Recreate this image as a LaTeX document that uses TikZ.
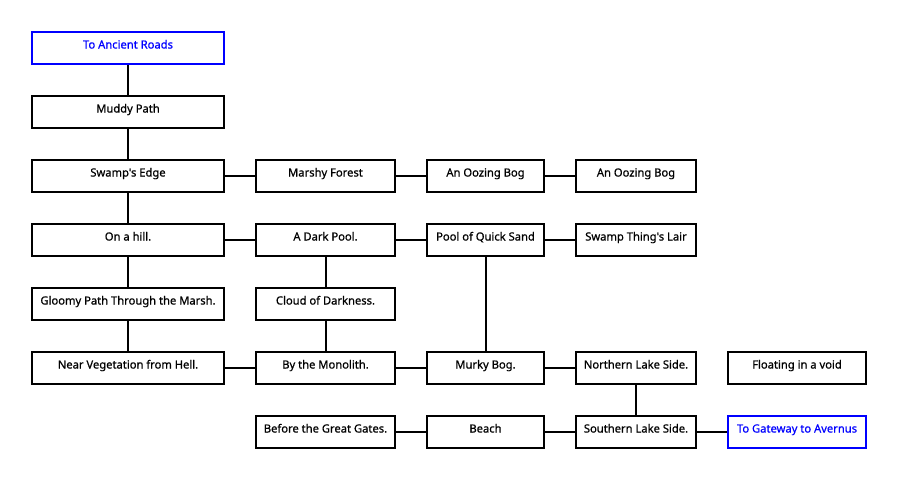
\documentclass[tikz,border=0pt]{standalone}
\usepackage{fontspec}
\setmainfont{Noto Sans}
\newfontfamily\roomfont{Noto Sans}[FakeBold=0.7]
\begin{document}
\begin{tikzpicture}[x=1pt,y=-1pt,
  room/.style={draw=black, line width=2pt, minimum height=32pt, inner sep=0pt, font=\roomfont\fontsize{11.2}{13}\selectfont, text=black},
  exitroom/.style={room, draw=blue, text=blue},
  link/.style={line width=2pt, draw=black}]
\useasboundingbox (0,0) rectangle (898,480);
\newcommand{\rt}[1]{\raisebox{-0.5pt}[0pt][0pt]{#1}}
% column 1 (center 128, width 192)
\node[exitroom, minimum width=192pt] (ancient) at (128,48) {\rt{To Ancient Roads}};
\node[room, minimum width=192pt] (muddy) at (128,112) {\rt{Muddy Path}};
\node[room, minimum width=192pt] (edge) at (128,176) {\rt{Swamp's Edge}};
\node[room, minimum width=192pt] (hill) at (128,240) {\rt{On a hill.}};
\node[room, minimum width=192pt] (gloomy) at (128,304) {\rt{Gloomy Path Through the Marsh.}};
\node[room, minimum width=192pt] (veg) at (128,368) {\rt{Near Vegetation from Hell.}};
% column 2 (center 325.5, width 139.5)
\node[room, minimum width=139.5pt] (marshy) at (325.5,176) {\rt{Marshy Forest}};
\node[room, minimum width=139.5pt] (dark) at (325.5,240) {\rt{A Dark Pool.}};
\node[room, minimum width=139.5pt] (cloud) at (325.5,304) {\rt{Cloud of Darkness.}};
\node[room, minimum width=139.5pt] (mono) at (325.5,368) {\rt{By the Monolith.}};
\node[room, minimum width=139.5pt] (gates) at (325.5,432) {\rt{Before the Great Gates.}};
% column 3 (center 485.5, width 117.5)
\node[room, minimum width=117.5pt] (ooze1) at (485.5,176) {\rt{An Oozing Bog}};
\node[room, minimum width=117.5pt] (quick) at (485.5,240) {\rt{Pool of Quick Sand}};
\node[room, minimum width=117.5pt] (murky) at (485.5,368) {\rt{Murky Bog.}};
\node[room, minimum width=117.5pt] (beach) at (485.5,432) {\rt{Beach}};
% column 4 (center 636, width 120.5)
\node[room, minimum width=120.5pt] (ooze2) at (636,176) {\rt{An Oozing Bog}};
\node[room, minimum width=120.5pt] (lair) at (636,240) {\rt{Swamp Thing's Lair}};
\node[room, minimum width=120.5pt] (north) at (636,368) {\rt{Northern Lake Side.}};
\node[room, minimum width=120.5pt] (south) at (636,432) {\rt{Southern Lake Side.}};
% column 5 (center 797, width 138.5)
\node[room, minimum width=138.5pt] (void) at (797,368) {\rt{Floating in a void}};
\node[exitroom, minimum width=138.5pt] (gateway) at (797,432) {\rt{To Gateway to Avernus}};
% links
\draw[link] (ancient) -- (muddy);
\draw[link] (muddy) -- (edge);
\draw[link] (edge) -- (marshy);
\draw[link] (marshy) -- (ooze1);
\draw[link] (ooze1) -- (ooze2);
\draw[link] (edge) -- (hill);
\draw[link] (hill) -- (dark);
\draw[link] (dark) -- (quick);
\draw[link] (quick) -- (lair);
\draw[link] (dark) -- (cloud);
\draw[link] (hill) -- (gloomy);
\draw[link] (gloomy) -- (veg);
\draw[link] (cloud) -- (mono);
\draw[link] (veg) -- (mono);
\draw[link] (mono) -- (murky);
\draw[link] (quick) -- (murky);
\draw[link] (murky) -- (north);
\draw[link] (north) -- (south);
\draw[link] (gates) -- (beach);
\draw[link] (beach) -- (south);
\draw[link] (south) -- (gateway);
\end{tikzpicture}
\end{document}
